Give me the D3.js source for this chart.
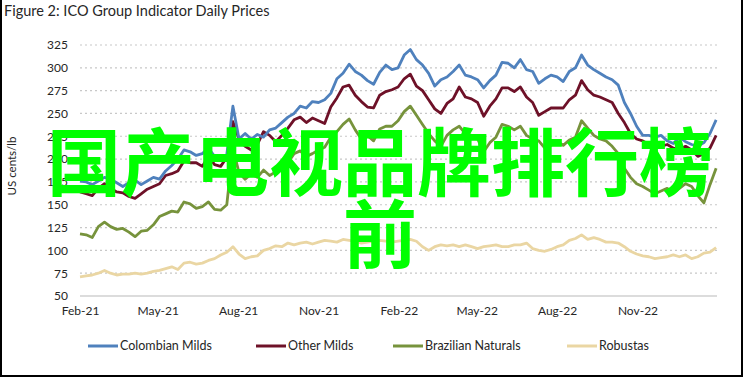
<!DOCTYPE html>
<html>
<head>
<meta charset="utf-8">
<script src="https://cdnjs.cloudflare.com/ajax/libs/d3/7.8.5/d3.min.js"></script>
<style>
  body { margin: 0; background: #fff; }
  svg text { font-family: Lato, "Open Sans", sans-serif; fill: #262626; }
  .grid line { stroke: #c8c8c8; stroke-dasharray: 2,3; stroke-width: 1.2; }
  .axis path, .axis line { display: none; }
</style>
</head>
<body>
<svg id="chart" width="745" height="378"></svg>
<script>
// weekly prices, US cents/lb, starting 1 Feb 2021
const startDate = "2021-02-01";
const seriesNames = ["Colombian Milds", "Other Milds", "Brazilian Naturals", "Robustas"];
const seriesColors = ["#4f81bd", "#6e1128", "#77933c", "#ead6a3"];

const colombian = [176,175,172,176,180,178,174,170,174,177,172,176,180,178,187,193,200,210,208,204,206,212,203,202,205,258,222,
  228,222,227,224,232,234,240,246,250,258,256,263,262,265,272,288,294,304,296,292,286,282,295,303,298,300,
  314,320,309,303,294,280,287,290,296,303,292,290,287,278,286,292,306,305,300,309,298,296,283,288,292,290,
  285,296,300,314,303,298,294,290,287,281,262,250,236,226,226,224,226,220,217,224,219,216,214,218,228,243];
const otherMilds = [164,162,160,168,173,168,164,163,159,157,162,167,170,173,182,184,187,198,196,196,192,203,194,192,202,241,222,
  214,210,216,230,226,219,226,234,243,246,240,245,242,239,257,267,279,281,270,263,257,256,270,274,276,279,
  288,293,280,275,265,255,250,261,266,279,268,266,262,247,258,266,278,278,274,279,268,262,248,252,256,256,
  256,265,270,286,276,270,268,265,262,250,240,228,222,220,216,220,214,216,212,210,214,210,203,206,212,226];
const brazilian = [118,117,114,126,131,126,123,124,120,115,121,122,128,137,140,143,142,153,151,146,148,153,145,144,150,212,185,
  178,184,180,188,182,186,190,196,206,209,203,206,210,213,224,230,238,244,232,222,226,220,233,236,236,242,
  252,258,248,238,228,220,214,226,232,236,228,226,222,208,218,224,238,236,232,236,226,222,220,212,215,220,
  215,221,224,242,234,226,222,220,214,206,190,180,173,170,166,162,165,168,163,168,173,170,160,152,172,190];
const robustas = [71,72,73,75,78,75,73,74,74,75,74,75,77,78,80,82,79,86,87,85,86,89,91,95,98,104,96,
  91,93,94,100,102,105,104,108,106,108,109,107,109,111,110,109,112,111,110,108,109,110,111,110,109,110,
  111,112,110,104,100,104,106,105,106,104,106,104,102,104,105,106,104,104,106,106,108,102,100,99,101,104,
  106,111,113,117,112,114,112,109,109,108,104,99,96,94,93,91,92,93,95,93,95,91,93,97,98,103];

const yTicks = [50, 75, 100, 125, 150, 175, 200, 225, 250, 275, 300, 325];
const xTickFormat = "%b-%y";
const overlayLines = ["国产电视品牌排行榜", "前"];

const svg = d3.select("#chart");
const parse = d3.utcParse("%Y-%m-%d");
const start = parse(startDate);
const allSeries = [colombian, otherMilds, brazilian, robustas];
const dates = colombian.map((d, i) => d3.utcDay.offset(start, i * 7));

const x = d3.scaleUtc()
  .domain([start, parse("2023-01-31")])
  .range([80, 717]);
const y = d3.scaleLinear().domain([50, 325]).range([296, 45]);

// frame
svg.append("rect")
  .attr("x", 1).attr("y", -5)
  .attr("width", 741).attr("height", 381)
  .attr("fill", "none").attr("stroke", "#000").attr("stroke-width", 2);

svg.append("text")
  .attr("x", 4).attr("y", 16)
  .style("font-size", "14.5px")
  .text("Figure 2: ICO Group Indicator Daily Prices");

// gridlines
svg.append("g").attr("class", "grid")
  .selectAll("line")
  .data(yTicks.filter(d => d > 50))
  .join("line")
  .attr("x1", 80).attr("x2", 717)
  .attr("y1", d => y(d)).attr("y2", d => y(d));

svg.append("line")
  .attr("x1", 80).attr("x2", 717)
  .attr("y1", y(50)).attr("y2", y(50))
  .attr("stroke", "#d0d0d0").attr("stroke-width", 1.5);

// axes
const yAxis = svg.append("g").attr("class", "axis")
  .attr("transform", "translate(80,0)")
  .call(d3.axisLeft(y).tickValues(yTicks).tickSize(0).tickPadding(12));
yAxis.selectAll("text").style("font-size", "12px").attr("fill", "#262626");

const xAxis = svg.append("g").attr("class", "axis")
  .attr("transform", "translate(0," + y(50) + ")")
  .call(d3.axisBottom(x)
    .tickValues(d3.utcMonth.range(start, parse("2022-12-01"), 3))
    .tickFormat(d3.utcFormat(xTickFormat))
    .tickSize(0).tickPadding(10));
xAxis.selectAll("text").style("font-size", "12px").attr("fill", "#262626");

svg.append("text")
  .attr("transform", "translate(16,166) rotate(-90)")
  .attr("text-anchor", "middle")
  .style("font-size", "11.5px")
  .text("US cents/lb");

// lines
const line = d3.line()
  .x((d, i) => x(dates[i]))
  .y(d => y(d));

svg.append("g")
  .selectAll("path")
  .data(allSeries.slice().reverse())
  .join("path")
  .attr("fill", "none")
  .attr("stroke", (d, i) => seriesColors[3 - i])
  .attr("stroke-width", 2.8)
  .attr("stroke-linejoin", "round")
  .attr("d", line);

// legend
const legendX = [88, 256, 393, 567];
const legend = svg.append("g")
  .selectAll("g")
  .data(seriesNames)
  .join("g")
  .attr("transform", (d, i) => "translate(" + legendX[i] + ",346)");
legend.append("line")
  .attr("x1", 0).attr("x2", 30)
  .attr("stroke", (d, i) => seriesColors[i])
  .attr("stroke-width", 3);
legend.append("text")
  .attr("x", 32).attr("dy", "0.35em")
  .style("font-size", "12.5px")
  .text(d => d);

// overlay text
svg.append("g")
  .selectAll("text")
  .data(overlayLines)
  .join("text")
  .attr("x", 380)
  .attr("y", (d, i) => 190 + i * 72)
  .attr("text-anchor", "middle")
  .style("font-family", "'Noto Sans CJK SC', sans-serif")
  .style("font-weight", 700)
  .style("font-size", "74px")
  .style("fill", "#00ff00")
  .text(d => d);
</script>
</body>
</html>
